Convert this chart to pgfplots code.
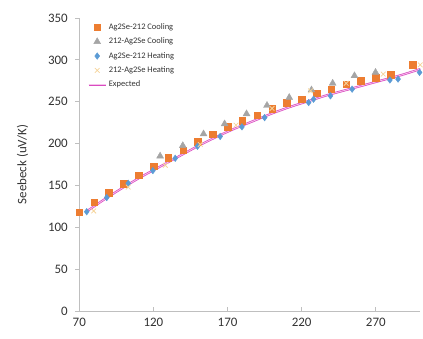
\documentclass[border=0pt]{standalone}
\usepackage{fontspec}
\setmainfont{Carlito}
\usepackage{pgfplots}
\pgfplotsset{compat=1.18}
\definecolor{cOrange}{HTML}{ED7D31}
\definecolor{cGray}{HTML}{A5A5A5}
\definecolor{cBlue}{HTML}{5B9BD5}
\definecolor{cTan}{HTML}{F5D49A}
\definecolor{cMag}{HTML}{D94BC0}
\definecolor{cPink}{HTML}{F6C2EC}
\definecolor{axgray}{HTML}{BFBFBF}
\begin{document}
\begin{tikzpicture}
\begin{axis}[
  at={(0,0)}, anchor=south west,
  scale only axis, width=341bp, height=293bp,
  xmin=70, xmax=300, ymin=0, ymax=350,
  xtick={70,120,170,220,270}, ytick={0,50,...,350},
  axis x line*=bottom, axis y line*=left,
  axis line style={axgray, line width=0.8bp},
  every tick/.style={axgray, line width=0.8bp},
  x tick style={axgray}, major tick length=4bp,
  ytick align=outside, xtick align=inside,
  /pgf/number format/assume math mode=true,
  tick label style={font=\fontsize{13}{15}\selectfont, text=black!80},
  xticklabel style={yshift=-4bp},
  yticklabel style={xshift=-4bp},
  ylabel={Seebeck (uV/K)},
  ylabel style={font=\fontsize{13}{15}\selectfont, text=black!80, yshift=13bp},
  clip=false,
  legend cell align=left,
  legend style={at={(0.015,0.995)}, anchor=north west, draw=none, fill=none,
    font=\fontsize{8.5}{10}\selectfont, row sep=3bp, text=black!80},
]
\addplot[only marks, mark=square*, mark size=3.3bp, cOrange, mark options={fill=cOrange, draw=cOrange}] coordinates {
(70,118) (80,130) (90,141) (100,152) (110,162) (120,173) (130,183) (140,192) (150,202) (160,211) (170,220) (180,227) (190,234) (200,242) (210,249) (220,253) (230,260) (240,265) (250,271) (260,275) (270,279) (280,282) (295,294)};
\addlegendentry{Ag2Se-212 Cooling}
\addplot[only marks, mark=triangle*, mark size=4bp, cGray, mark options={fill=cGray, draw=cGray}] coordinates {
(124.5,185) (139.8,197.5) (153.8,211.5) (168,223.5) (182.8,235.5) (196.6,245.5) (211.6,255) (226.6,264) (240.9,272) (255.6,281) (269.8,285)};
\addlegendentry{212-Ag2Se Cooling}
\addplot[only marks, mark=diamond*, mark size=3.3bp, cBlue, mark options={fill=cBlue, draw=cBlue}] coordinates {
(75,118.6) (88.5,135.5) (103,152.5) (119.6,167.7) (134.7,182.4) (149.7,196.8) (165,208.5) (179.7,220) (195,231) (224.7,249) (228,253) (239.4,257) (254,265) (279.5,276) (285,277) (299.5,285)};
\addlegendentry{Ag2Se-212 Heating}
\addplot[only marks, mark=x, mark size=3.3bp, cTan, mark options={line width=0.8bp}] coordinates {
(79.7,119.5) (103,148) (128,174) (151.6,199) (175.7,222) (200,242) (226,263) (250,272) (275,283) (300,294)};
\addlegendentry{212-Ag2Se Heating}
\addplot[no marks, smooth, draw=cMag, line width=0.7bp, double=cPink, double distance=0.8bp] coordinates {
(75,119) (87.5,134) (100,148) (112.5,161) (125,173) (137.5,185) (150,197) (162.5,208) (175,218) (187.5,227) (200,236) (212.5,244) (225,251) (237.5,258) (250,264) (262.5,270) (275,276) (287.5,282) (300,289)};
\addlegendentry{Expected}
\end{axis}
\pgfresetboundingbox
\path (-79.3bp,-28bp) rectangle (343.7bp,311bp);
\end{tikzpicture}
\end{document}
